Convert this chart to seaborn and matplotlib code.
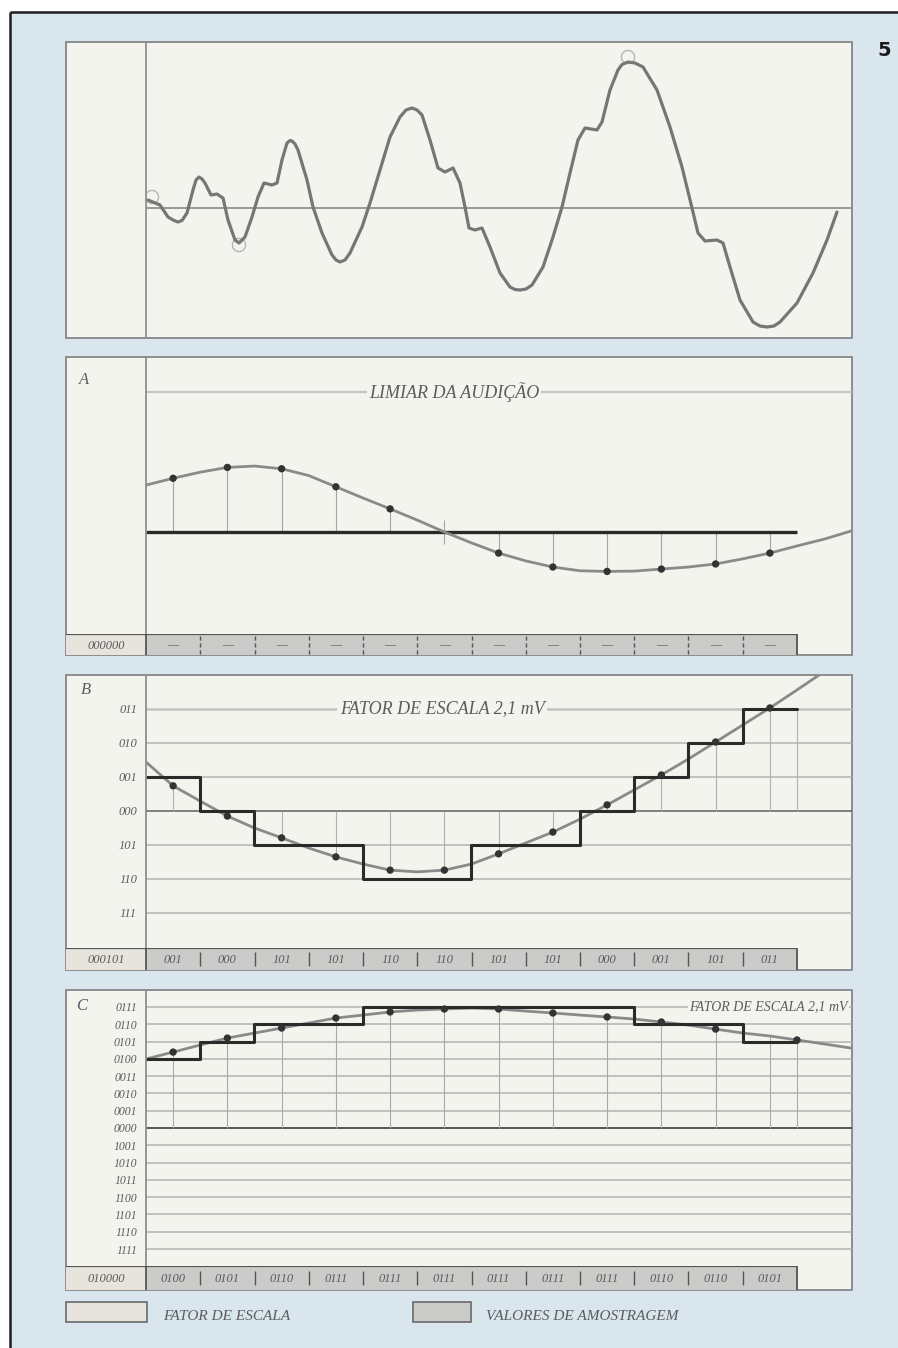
import matplotlib
matplotlib.use("Agg")
import matplotlib.pyplot as plt
from matplotlib.patches import Rectangle
import seaborn as sns

# ---- data ----
# top panel: analogue waveform (time units, amplitude units)
wave_t = [0.2, 1.4, 2.2, 2.8, 3.2, 3.6, 4.1, 4.7, 5.0, 5.3, 5.6, 5.9, 6.5, 7.1, 7.7, 8.2,
          8.9, 9.3, 9.9, 10.6, 11.2, 11.8, 12.6, 13.1, 13.6, 14.1, 14.4, 14.6, 14.9, 15.2,
          16.1, 16.7, 17.6, 18.6, 19.0, 19.4, 19.9, 20.4, 21.6, 22.4, 23.4, 24.4, 25.4,
          26.0, 26.6, 27.1, 27.6, 28.4, 29.2, 29.9, 30.7, 31.4, 31.9, 32.3, 32.9, 33.6,
          34.4, 35.4, 36.4, 36.9, 37.4, 38.0, 38.6, 39.7, 40.7, 41.6, 42.4, 43.2, 43.9,
          45.1, 45.6, 46.4, 47.2, 47.6, 48.2, 48.9, 49.7, 51.1, 52.4, 53.6, 54.6, 55.2,
          55.9, 57.1, 57.7, 58.4, 59.4, 60.7, 61.4, 62.1, 62.8, 63.4, 65.1, 66.7, 68.1, 69.1]
wave_v = [0.8, 0.3, -0.9, -1.25, -1.4, -1.25, -0.5, 1.8, 2.8, 3.1, 2.9, 2.5, 1.3, 1.4, 1.0, -1.2,
          -3.2, -3.5, -2.9, -0.9, 1.1, 2.5, 2.3, 2.5, 4.8, 6.5, 6.75, 6.7, 6.4, 5.8,
          2.8, 0.1, -2.5, -4.7, -5.2, -5.4, -5.2, -4.5, -1.9, 0.5, 3.8, 7.1, 9.1,
          9.8, 10.0, 9.8, 9.3, 6.8, 4.0, 3.6, 4.0, 2.5, 0.1, -2.0, -2.2, -2.0,
          -3.9, -6.5, -7.9, -8.15, -8.2, -8.1, -7.7, -5.9, -2.9, 0.1, 3.5, 6.8, 8.0,
          7.8, 8.6, 11.8, 13.8, 14.35, 14.6, 14.5, 14.1, 11.8, 8.1, 4.1, 0.0, -2.5,
          -3.3, -3.2, -3.5, -5.9, -9.2, -11.4, -11.8, -11.9, -11.8, -11.4, -9.5, -6.5, -3.2, -0.4]
marked_t = [0.6, 9.3, 48.2]
marked_v = [1.1, -3.7, 15.1]

# panels A, B, C (x in sample cells, y in quantisation steps)
curve_x = [0, 0.5, 1, 1.5, 2, 2.5, 3, 3.5, 4, 4.5, 5, 5.5, 6, 6.5, 7, 7.5, 8, 8.5,
           9, 9.5, 10, 10.5, 11, 11.5, 12, 12.5, 13]
sample_x = [0.5, 1.5, 2.5, 3.5, 4.5, 5.5, 6.5, 7.5, 8.5, 9.5, 10.5, 11.5]
step_edges = [0, 1, 2, 3, 4, 5, 6, 7, 8, 9, 10, 11, 12]

a_curve = [1.38, 1.58, 1.76, 1.90, 1.94, 1.86, 1.66, 1.33, 1.00, 0.68, 0.35, 0.0, -0.32,
           -0.62, -0.85, -1.03, -1.14, -1.16, -1.15, -1.09, -1.03, -0.94, -0.79, -0.62,
           -0.41, -0.21, 0.03]
a_samples = [1.58, 1.90, 1.86, 1.33, 0.68, 0.0, -0.62, -1.03, -1.16, -1.09, -0.94, -0.62]
a_threshold = 4.12
a_first = "000000"
a_codes = ["—"] * 12

b_curve = [1.44, 0.74, 0.29, -0.15, -0.50, -0.79, -1.09, -1.35, -1.56, -1.74, -1.79, -1.74,
           -1.56, -1.26, -0.94, -0.62, -0.24, 0.18, 0.62, 1.06, 1.53, 2.03, 2.53, 3.03,
           3.56, 4.10, 4.60]
b_samples = [0.74, -0.15, -0.79, -1.35, -1.74, -1.74, -1.26, -0.62, 0.18, 1.06, 2.03, 3.03]
b_steps = [1, 0, -1, -1, -2, -2, -1, -1, 0, 1, 2, 3]
b_levels = [3, 2, 1, 0, -1, -2, -3]
b_labels = ["011", "010", "001", "000", "101", "110", "111"]
b_first = "000101"
b_codes = ["001", "000", "101", "101", "110", "110", "101", "101", "000", "001", "101", "011"]

c_curve = [3.99, 4.39, 4.80, 5.20, 5.49, 5.78, 6.07, 6.36, 6.53, 6.71, 6.82, 6.88, 6.94,
           6.88, 6.76, 6.65, 6.53, 6.42, 6.30, 6.13, 5.95, 5.72, 5.49, 5.32, 5.09, 4.86, 4.62]
c_dot_x = [0.5, 1.5, 2.5, 3.5, 4.5, 5.5, 6.5, 7.5, 8.5, 9.5, 10.5, 12.0]
c_dot_v = [4.39, 5.20, 5.78, 6.36, 6.71, 6.88, 6.88, 6.65, 6.42, 6.13, 5.72, 5.09]
c_stem_x = [0.5, 1.5, 2.5, 3.5, 4.5, 5.5, 6.5, 7.5, 8.5, 9.5, 10.5, 11.5, 12.0]
c_stem_v = [4.39, 5.20, 5.78, 6.36, 6.71, 6.88, 6.88, 6.65, 6.42, 6.13, 5.72, 5.32, 5.09]
c_steps = [4, 5, 6, 6, 7, 7, 7, 7, 7, 6, 6, 5]
c_levels = [7, 6, 5, 4, 3, 2, 1, 0, -1, -2, -3, -4, -5, -6, -7]
c_labels = ["0111", "0110", "0101", "0100", "0011", "0010", "0001", "0000",
            "1001", "1010", "1011", "1100", "1101", "1110", "1111"]
c_first = "010000"
c_codes = ["0100", "0101", "0110", "0111", "0111", "0111", "0111", "0111", "0111",
           "0110", "0110", "0101"]

legend_labels = ["FATOR DE ESCALA", "VALORES DE AMOSTRAGEM"]

# ---- style ----
sns.set_theme(style="white")
plt.rcParams["font.family"] = ["Liberation Serif", "DejaVu Serif"]

PAGE = "#d9e6ee"
PANEL = "#f4f4ef"
FRAME = "#8d8d8d"
LIGHT = "#e7e4de"
GREY = "#cbcbc9"
CURVE = "#8a8a8a"
DARK = "#2a2a2a"
TXT = "#5c5c5c"
serif_it = dict(family="Liberation Serif", style="italic", color=TXT)

W, H = 898, 1348
fig = plt.figure(figsize=(W / 100, H / 100), dpi=100)
fig.patch.set_facecolor("white")


def px_axes(l, t, r, b):
    return fig.add_axes([l / W, 1 - b / H, (r - l) / W, (b - t) / H])


bg = px_axes(0, 0, W, H)
bg.set_xlim(0, W)
bg.set_ylim(H, 0)
bg.axis("off")
bg.add_patch(Rectangle((10, 12), W, H, facecolor=PAGE, edgecolor="none"))
bg.plot([10, 10], [12, H], color="#1e1e1e", lw=1.8, solid_capstyle="butt")
bg.plot([10, W], [12, 12], color="#1e1e1e", lw=1.8, solid_capstyle="butt")

panels = [(42, 338), (357, 655), (675, 970), (990, 1290)]
for top, bot in panels:
    bg.add_patch(Rectangle((66, top), 786, bot - top, facecolor=PANEL,
                           edgecolor=FRAME, lw=1.4))

bg.text(884, 50, "5", fontsize=14, fontweight="bold", family="DejaVu Sans",
        color="#1a1a1a", ha="center", va="center")
for lab, (x, y) in zip(["A", "B", "C"], [(84, 380), (86, 690), (82, 1006)]):
    bg.text(x, y, lab, fontsize=12, ha="center", va="center", **serif_it)

# legend
bg.add_patch(Rectangle((66, 1302), 81, 20, facecolor=LIGHT, edgecolor="#6a6a6a", lw=1.2))
bg.add_patch(Rectangle((413, 1302), 58, 20, facecolor=GREY, edgecolor="#6a6a6a", lw=1.2))
bg.text(163, 1316, legend_labels[0], fontsize=11, ha="left", va="center", **serif_it)
bg.text(486, 1316, legend_labels[1], fontsize=11, ha="left", va="center", **serif_it)


def setup_main(ax, ylim):
    ax.set_facecolor("none")
    ax.set_xlim(0, 13.014)
    ax.set_ylim(*ylim)
    for s in ["top", "right", "bottom"]:
        ax.spines[s].set_visible(False)
    ax.spines["left"].set_color(FRAME)
    ax.spines["left"].set_linewidth(1.3)
    ax.set_xticks([])
    ax.set_xlabel("")
    ax.set_ylabel("")


def setup_row(ax, first, codes, dashed, fs):
    ax.set_xlim(-1.475, 13.014)
    ax.set_ylim(0, 1)
    ax.axis("off")
    ax.bar(-0.7375, 1, width=1.475, color=LIGHT, linewidth=0)
    ax.bar(sample_x, [1] * len(sample_x), width=1, color=GREY, linewidth=0)
    ax.hlines(1, -1.475, 12, color="#555555", lw=1.6)
    ax.vlines([0, 12], 0, 1, color="#555555", lw=1.3)
    if dashed:
        ax.vlines(step_edges[1:-1], 0.05, 0.95, color="#555555", lw=1.0,
                  linestyles=(0, (3, 2)))
    else:
        ax.vlines(step_edges[1:-1], 0.2, 0.8, color="#555555", lw=1.0)
    ax.text(-0.7375, 0.45, first, fontsize=fs, ha="center", va="center", **serif_it)
    for x, c in zip(sample_x, codes):
        ax.text(x, 0.45, c, fontsize=fs, ha="center", va="center", **serif_it)


# ---- top waveform ----
ax0 = px_axes(146, 42, 852, 338)
ax0.set_facecolor("none")
ax0.set_xlim(0, 70.6)
ax0.set_ylim(-13.0, 16.6)
for s in ["top", "right", "bottom"]:
    ax0.spines[s].set_visible(False)
ax0.spines["left"].set_color(FRAME)
ax0.set_xticks([])
ax0.set_yticks([])
ax0.axhline(0, color="#8a8a8a", lw=1.2)
sns.lineplot(x=wave_t, y=wave_v, ax=ax0, color="#767676", lw=2.3, sort=False,
             solid_joinstyle="round", solid_capstyle="round")
sns.scatterplot(x=marked_t, y=marked_v, ax=ax0, s=90, facecolor="none",
                edgecolor="#b5b5b5", linewidth=1.0)

# ---- panel A ----
axA = px_axes(146, 357, 852, 634)
setup_main(axA, (-3.0, 5.147))
axA.set_yticks([])
axA.axhline(a_threshold, color="#c4c4c4", lw=1.6)
axA.text(5.68, a_threshold, "LIMIAR DA AUDIÇÃO", fontsize=13, ha="center", va="center",
         bbox=dict(facecolor=PANEL, edgecolor="none", pad=1.5), **serif_it)
axA.vlines(sample_x, 0, a_samples, color="#a5a5a5", lw=0.8)
axA.vlines(sample_x[5], -0.35, 0.35, color="#a5a5a5", lw=0.8)
axA.hlines(0, 0, 12, color=DARK, lw=2.4)
sns.lineplot(x=curve_x, y=a_curve, ax=axA, color=CURVE, lw=2.0, sort=False,
             solid_joinstyle="round")
dots_a = [(x, v) for x, v in zip(sample_x, a_samples) if v != 0.0]
sns.scatterplot(x=[d[0] for d in dots_a], y=[d[1] for d in dots_a], ax=axA, s=28,
                color="#333333", edgecolor="none", zorder=5)
setup_row(px_axes(66, 634, 852, 655), a_first, a_codes, True, 9)

# ---- panel B ----
axB = px_axes(146, 675, 852, 948)
setup_main(axB, (-4.03, 4.0))
for lv in b_levels:
    if lv == 0:
        axB.axhline(lv, color="#6a6a6a", lw=1.2)
    elif lv == 3:
        axB.axhline(lv, color="#c2c2c2", lw=1.8)
    else:
        axB.axhline(lv, color="#b2b2b2", lw=1.1)
axB.set_yticks(b_levels)
axB.set_yticklabels(b_labels, fontsize=9, **serif_it)
axB.tick_params(axis="y", length=0, pad=6.5)
axB.text(5.46, 3, "FATOR DE ESCALA 2,1 mV", fontsize=13, ha="center", va="center",
         bbox=dict(facecolor=PANEL, edgecolor="none", pad=2), **serif_it)
axB.vlines(sample_x, 0, b_samples, color="#b0b0b0", lw=0.8)
axB.vlines(12, 0, b_steps[-1], color="#b0b0b0", lw=0.8)
sns.lineplot(x=curve_x, y=b_curve, ax=axB, color=CURVE, lw=2.0, sort=False,
             solid_joinstyle="round")
axB.step(step_edges, b_steps + [b_steps[-1]], where="post", color=DARK, lw=2.2)
sns.scatterplot(x=sample_x, y=b_samples, ax=axB, s=28, color="#333333",
                edgecolor="none", zorder=5)
setup_row(px_axes(66, 948, 852, 970), b_first, b_codes, False, 9)

# ---- panel C ----
axC = px_axes(146, 990, 852, 1266)
setup_main(axC, (-7.98, 7.98))
for lv in c_levels:
    if lv == 0:
        axC.axhline(lv, color="#555555", lw=1.4)
    else:
        axC.axhline(lv, color="#b2b2b2", lw=1.1)
axC.set_yticks(c_levels)
axC.set_yticklabels(c_labels, fontsize=8.5, **serif_it)
axC.tick_params(axis="y", length=0, pad=6.5)
axC.text(12.94, 7, "FATOR DE ESCALA 2,1 mV", fontsize=10, ha="right", va="center",
         bbox=dict(facecolor=PANEL, edgecolor="none", pad=1), **serif_it)
axC.vlines(c_stem_x, 0, c_stem_v, color="#a8a8a8", lw=0.8)
sns.lineplot(x=curve_x, y=c_curve, ax=axC, color=CURVE, lw=2.0, sort=False,
             solid_joinstyle="round")
axC.step(step_edges, c_steps + [c_steps[-1]], where="post", color=DARK, lw=2.2)
sns.scatterplot(x=c_dot_x, y=c_dot_v, ax=axC, s=28, color="#333333",
                edgecolor="none", zorder=5)
setup_row(px_axes(66, 1266, 852, 1290), c_first, c_codes, False, 9)

fig.savefig("out.png", dpi=100, facecolor=fig.get_facecolor())
